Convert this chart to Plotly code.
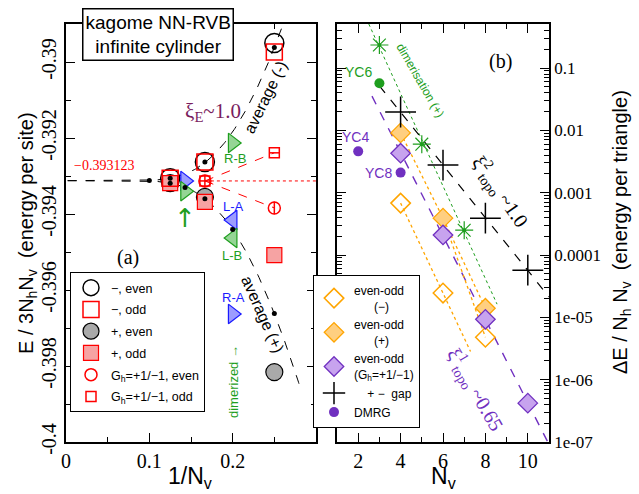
import numpy as np
import plotly.graph_objects as go

W, H = 639, 494
SERIF = "Liberation Serif"
SANS = "Liberation Sans"

# ---------------- panel (a) data: energy per site vs 1/N_v ----------------
minus_even_N = [4, 6, 8]
minus_even_E = [-0.38950, -0.39263, -0.39306]
minus_odd_N = [4, 6, 8]
minus_odd_E = [-0.38974, -0.39263, -0.39306]
plus_even_N = [4, 6, 8]
plus_even_E = [-0.39816, -0.39355, -0.39319]
plus_odd_N = [4, 6, 8]
plus_odd_E = [-0.39508, -0.39368, -0.39319]
gh_even_N = [4, 6]
gh_even_E = [-0.39384, -0.39313]
gh_odd_N = [4, 6]
gh_odd_E = [-0.39239, -0.39313]
RA_N = [5, 7]
RA_E = [-0.39663, -0.39313]
RB_N = [5, 7]
RB_E = [-0.39213, -0.39340]
LA_N = [5]
LA_E = [-0.39416]
LB_N = [5]
LB_E = [-0.39463]
avg_minus_N = [4, 6, 8, 10]
avg_minus_E = [-0.38962, -0.39263, -0.39306, -0.393118]
avg_plus_N = [4, 5, 6, 7, 8]
avg_plus_E = [-0.39662, -0.39441, -0.39360, -0.39330, -0.39319]
E_INF = -0.393123
FIT_A = 0.191
XI_E = 1.0

# ---------------- panel (b) data: energy gaps vs N_v ----------------
dim_N = [3, 5, 7]
dim_dE = [0.234, 0.0060, 2.5e-4]
gap_N = [4, 6, 8, 10]
gap_dE = [0.0197, 0.00277, 3.9e-4, 5.7e-5]
eo_minus_N = [4, 6, 8]
eo_minus_dE = [6.8e-4, 2.45e-5, 4.8e-6]
eo_plus_N = [4, 6, 8]
eo_plus_dE = [0.0091, 3.9e-4, 1.4e-5]
eo_gh_N = [4, 6, 8, 10]
eo_gh_dE = [0.0043, 2.1e-4, 9.3e-6, 4.2e-7]
dmrg_N = [2, 4]
dmrg_dE = [0.0046, 0.0021]
dmrg_labels = ["YC4", "YC8"]
yc6_N = [3]
yc6_dE = [0.057]

xa_ticks = [0, 0.1, 0.2]
xa_ticktext = ["0", "0.1", "0.2"]
ya_ticks = [-0.4, -0.398, -0.396, -0.394, -0.392, -0.39]
ya_ticktext = ["-0.4", "-0.398", "-0.396", "-0.394", "-0.392", "-0.39"]
xb_ticks = [2, 4, 6, 8, 10]
yb_ticks = [1e-7, 1e-6, 1e-5, 1e-4, 1e-3, 1e-2, 1e-1]
yb_ticktext = ["1e-07", "1e-06", "1e-05", "0.0001", "0.001", "0.01", "0.1"]

# colours
RED = "#ff0000"
PINK = "#f6a3a3"
GRAY = "#a9a9a9"
GREEN = "#1e9e1e"
LGREEN = "#95d595"
BLUE = "#1a1aff"
LBLUE = "#9c9cff"
ORANGE = "#ffa500"
LORANGE = "#ffcf80"
PURPLE = "#7030c0"
LPURPLE = "#c7a3ee"
MAROON = "#7a1e5e"


def inv(ns):
    return [1.0 / n for n in ns]


fig = go.Figure()


def A(**kw):
    fig.add_trace(go.Scatter(xaxis="x", yaxis="y", **kw))


def B(**kw):
    fig.add_trace(go.Scatter(xaxis="x2", yaxis="y2", **kw))


# ---- panel (a) lines
xs = np.linspace(0.002, 0.28, 300)
A(x=xs, y=E_INF + FIT_A * np.exp(-1.0 / (xs * XI_E)), mode="lines",
  line=dict(color="black", dash="dash", width=1), showlegend=False, hoverinfo="skip")
A(x=xs, y=E_INF - FIT_A * np.exp(-1.0 / (xs * XI_E)), mode="lines",
  line=dict(color="black", dash="dash", width=1), showlegend=False, hoverinfo="skip")
A(x=inv([gh_odd_N[1], gh_odd_N[0]]), y=[gh_odd_E[1], gh_odd_E[0]], mode="lines",
  line=dict(color=RED, dash="dash", width=1), showlegend=False)
A(x=inv([gh_even_N[1], gh_even_N[0]]), y=[gh_even_E[1], gh_even_E[0]], mode="lines",
  line=dict(color=RED, dash="dash", width=1), showlegend=False)
A(x=[1.0 / gh_even_N[1], 0.3], y=[gh_even_E[1], gh_even_E[1]], mode="lines",
  line=dict(color=RED, dash="dot", width=1), showlegend=False)

# ---- panel (a) markers
A(x=inv(plus_even_N), y=plus_even_E, mode="markers", name="+, even", legend="legend", legendrank=3,
  legendgroup="g3",
  marker=dict(symbol="circle", size=17, color=GRAY, line=dict(color="black", width=1.2)))
A(x=inv(minus_even_N), y=minus_even_E, mode="markers", name="\u2212, even", legend="legend", legendrank=1,
  legendgroup="g1",
  marker=dict(symbol="circle-open", size=19, color="black", line=dict(color="black", width=1.5)))
A(x=inv(plus_odd_N), y=plus_odd_E, mode="markers", name="+, odd", legend="legend", legendrank=4,
  legendgroup="g4",
  marker=dict(symbol="square", size=15, color=PINK, line=dict(color=RED, width=1.2)))
A(x=inv(minus_odd_N), y=minus_odd_E, mode="markers", name="\u2212, odd", legend="legend", legendrank=2,
  legendgroup="g2",
  marker=dict(symbol="square-open", size=16, color=RED, line=dict(color=RED, width=1.5)))
A(x=inv(gh_even_N), y=gh_even_E, mode="markers", name="G<sub>h</sub>=+1/\u22121, even", legend="legend",
  legendrank=5, legendgroup="g5",
  marker=dict(symbol="circle-open", size=12, color=RED, line=dict(color=RED, width=1.5)))
A(x=inv(gh_even_N), y=gh_even_E, mode="markers", showlegend=False,
  marker=dict(symbol="line-ns-open", size=9, color=RED, line=dict(color=RED, width=1.5)))
A(x=inv(gh_odd_N), y=gh_odd_E, mode="markers", name="G<sub>h</sub>=+1/\u22121, odd", legend="legend",
  legendrank=6, legendgroup="g6",
  marker=dict(symbol="square-open", size=10, color=RED, line=dict(color=RED, width=1.5)))
A(x=inv(gh_odd_N), y=gh_odd_E, mode="markers", showlegend=False,
  marker=dict(symbol="line-ew-open", size=7, color=RED, line=dict(color=RED, width=1.5)))
A(x=inv(RA_N), y=RA_E, mode="markers", showlegend=False,
  marker=dict(symbol="triangle-right", size=17, color=LBLUE, line=dict(color=BLUE, width=1.2)))
A(x=inv(RB_N), y=RB_E, mode="markers", showlegend=False,
  marker=dict(symbol="triangle-right", size=17, color=LGREEN, line=dict(color=GREEN, width=1.2)))
A(x=inv(LA_N), y=LA_E, mode="markers", showlegend=False,
  marker=dict(symbol="triangle-left", size=17, color=LBLUE, line=dict(color=BLUE, width=1.2)))
A(x=inv(LB_N), y=LB_E, mode="markers", showlegend=False,
  marker=dict(symbol="triangle-left", size=17, color=LGREEN, line=dict(color=GREEN, width=1.2)))
A(x=inv(avg_minus_N), y=avg_minus_E, mode="markers", showlegend=False,
  marker=dict(symbol="circle", size=5, color="black"))
A(x=inv(avg_plus_N), y=avg_plus_E, mode="markers", showlegend=False,
  marker=dict(symbol="circle", size=5, color="black"))

# ---- panel (b) lines (log-linear fits)
def logfit(ns, vals):
    return np.polyfit(ns, np.log10(vals), 1)

c = logfit(dim_N, dim_dE)
xg = np.linspace(2.5, 8.55, 50)
B(x=xg, y=10 ** np.polyval(c, xg), mode="lines", line=dict(color=GREEN, dash="dot", width=1),
  showlegend=False, hoverinfo="skip")
c = logfit(gap_N, gap_dE)
xk = np.linspace(yc6_N[0], 11, 50)
B(x=xk, y=10 ** np.polyval(c, xk), mode="lines", line=dict(color="black", dash="dash", width=1.2),
  showlegend=False, hoverinfo="skip")
c = logfit(eo_gh_N, eo_gh_dE)
xp = np.linspace(2.65, 11, 50)
B(x=xp, y=10 ** np.polyval(c, xp), mode="lines", line=dict(color=PURPLE, dash="dash", width=1.4),
  showlegend=False, hoverinfo="skip")
c = logfit(eo_minus_N[:2], eo_minus_dE[:2])
xo = np.linspace(eo_minus_N[0], 7.3, 30)
B(x=xo, y=10 ** np.polyval(c, xo), mode="lines", line=dict(color=ORANGE, dash="dot", width=1.3),
  showlegend=False, hoverinfo="skip")
B(x=eo_plus_N, y=eo_plus_dE, mode="lines", line=dict(color=ORANGE, dash="dot", width=1.3),
  showlegend=False, hoverinfo="skip")
B(x=[eo_plus_N[1], eo_minus_N[2]], y=[eo_plus_dE[1], eo_minus_dE[2]], mode="lines",
  line=dict(color=ORANGE, dash="dot", width=1.3), showlegend=False, hoverinfo="skip")

# ---- panel (b) markers
NB = "\u00a0"
B(x=eo_minus_N, y=eo_minus_dE, mode="markers", name="even-odd<br>" + NB * 6 + "(\u2212)", legend="legend2",
  legendrank=1, marker=dict(symbol="diamond-open", size=15, color=ORANGE, line=dict(color=ORANGE, width=1.5)))
B(x=eo_plus_N, y=eo_plus_dE, mode="markers", name="even-odd<br>" + NB * 6 + "(+)", legend="legend2",
  legendrank=2, marker=dict(symbol="diamond", size=15, color=LORANGE, line=dict(color=ORANGE, width=1.3)))
B(x=eo_gh_N, y=eo_gh_dE, mode="markers", name="even-odd<br>(G<sub>h</sub>=+1/\u22121)", legend="legend2",
  legendrank=3, marker=dict(symbol="diamond", size=15, color=LPURPLE, line=dict(color=PURPLE, width=1.3)))
B(x=dim_N, y=dim_dE, mode="markers", showlegend=False,
  marker=dict(symbol="asterisk-open", size=15, color=GREEN, line=dict(color=GREEN, width=1.2)))
B(x=dim_N, y=dim_dE, mode="markers", showlegend=False,
  marker=dict(symbol="circle", size=4, color=GREEN))
B(x=gap_N, y=gap_dE, mode="markers", name=NB * 4 + "+ \u2212" + NB * 2 + "gap", legend="legend2", legendrank=4,
  marker=dict(symbol="cross-thin-open", size=22, color="black", line=dict(color="black", width=1.5)))
B(x=yc6_N, y=yc6_dE, mode="markers", showlegend=False,
  marker=dict(symbol="circle", size=10, color=GREEN))
B(x=dmrg_N, y=dmrg_dE, mode="markers", name="DMRG", legend="legend2", legendrank=5,
  marker=dict(symbol="circle", size=10, color=PURPLE))


def px(x):
    return x / W


def py(y):
    return 1 - y / H


ann = []


def T(text, x, y, size, color="black", family=SANS, angle=0, **kw):
    ann.append(dict(text=text, x=px(x), y=py(y), xref="paper", yref="paper", showarrow=False,
                    font=dict(family=family, size=size, color=color), textangle=angle,
                    xanchor="center", yanchor="middle", **kw))


T("kagome NN-RVB<br>infinite cylinder", 158, 35, 19, bordercolor="black", borderwidth=1.5,
  bgcolor="white", borderpad=2)
T("(a)", 128, 257, 20, family=SERIF)
T("(b)", 500, 62, 20, family=SERIF)
T("\u22120.393123", 104, 166, 14, color=RED, family=SERIF)
T("\u03be<sub>E</sub>~1.0", 213, 112, 21, color=MAROON, family=SERIF)
T("average (-)", 265, 97, 16, angle=-64)
T("average (+)", 263, 314, 16, angle=66)
T("R-B", 235, 158, 13, color=GREEN)
T("L-A", 233, 206, 13, color=BLUE)
T("L-B", 232, 255, 13, color=GREEN)
T("R-A", 233, 297, 13, color=BLUE)
T("dimerized \u2192", 233, 382, 13, color=GREEN, angle=-90)
T("\u2191", 185, 218, 26, color=GREEN, family="DejaVu Sans")
T("YC6", 358, 72, 14, color=GREEN)
T("YC4", 355, 137, 14, color=PURPLE)
T("YC8", 378, 173, 14, color=PURPLE)
T("dimerisation (+)", 420, 80, 12, color=GREEN, angle=60)
T("\u03be<sup>2</sup><sub>topo</sub> ~1.0", 500, 192, 20, family=SERIF, angle=55)
T("\u03be<sup>1</sup><sub>topo</sub> ~0.65", 475, 390, 20, color=PURPLE, family=SERIF, angle=60)
T("1/N<sub>v</sub>", 190, 477, 23)
T("N<sub>v</sub>", 443, 477, 23)
T("E / 3N<sub>h</sub>N<sub>v</sub>  (energy per site)", 27, 233, 20, angle=-90)
T("\u0394E / N<sub>h</sub> N<sub>v</sub>  (energy per triangle)", 621, 232, 20, angle=-90)

axis_common = dict(showgrid=False, zeroline=False, showline=True, linecolor="black", linewidth=1.5,
                   mirror="allticks", ticks="inside", ticklen=9, tickwidth=1, tickcolor="black",
                   automargin=False, tickfont=dict(family=SERIF, size=20, color="black"))

fig.update_layout(
    width=W, height=H, margin=dict(l=0, r=0, t=0, b=0),
    paper_bgcolor="white", plot_bgcolor="white",
    xaxis=dict(domain=[px(66), px(316)], range=[0, 0.3], tickmode="array", tickvals=xa_ticks,
               ticktext=xa_ticktext, anchor="y",
               minor=dict(ticks="inside", ticklen=5, dtick=0.05, tick0=0, tickcolor="black"),
               **axis_common),
    yaxis=dict(domain=[py(442), py(24)], range=[-0.4, -0.389], tickmode="array", tickvals=ya_ticks,
               ticktext=ya_ticktext, tickangle=-90, anchor="x",
               minor=dict(ticks="inside", ticklen=5, dtick=0.001, tick0=-0.4, tickcolor="black"),
               **axis_common),
    xaxis2=dict(domain=[px(337), px(549)], range=[1, 11], tickmode="array", tickvals=xb_ticks,
                anchor="y2",
                minor=dict(ticks="inside", ticklen=5, dtick=1, tick0=1, tickcolor="black"),
                **axis_common),
    yaxis2=dict(domain=[py(442), py(24)], type="log", range=[-7, -0.294], tickmode="array",
                tickvals=yb_ticks, ticktext=yb_ticktext, side="right", anchor="x2",
                minor=dict(ticks="inside", ticklen=5, dtick="D1", tickcolor="black"),
                **{**axis_common, "tickfont": dict(family=SERIF, size=17, color="black")}),
    legend=dict(x=px(70), y=py(272), xanchor="left", yanchor="top", bgcolor="white",
                bordercolor="black", borderwidth=1, font=dict(family=SANS, size=12.5, color="black"),
                tracegroupgap=2.5),
    legend2=dict(x=px(313), y=py(275), xanchor="left", yanchor="top", bgcolor="white",
                 bordercolor="black", borderwidth=1, font=dict(family=SANS, size=12, color="black"),
                 tracegroupgap=0),
    annotations=ann,
    showlegend=True,
)

fig.write_html("out.html", config={"displayModeBar": False},
               post_script="document.body.style.margin='0px';document.body.style.padding='0px';")
